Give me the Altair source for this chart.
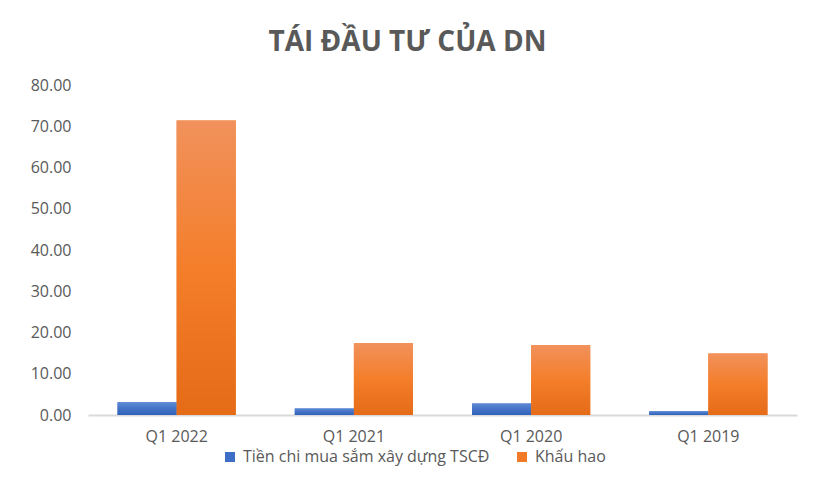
import altair as alt
import pandas as pd

categories = ["Q1 2022", "Q1 2021", "Q1 2020", "Q1 2019"]
series_names = ["Tiền chi mua sắm xây dựng TSCĐ", "Khấu hao"]
tien_chi = [3.1, 1.6, 2.8, 0.9]
khau_hao = [71.4, 17.4, 16.9, 14.9]
y_ticks = [0, 10, 20, 30, 40, 50, 60, 70, 80]

rows = []
for c, a, b in zip(categories, tien_chi, khau_hao):
    rows.append({"quarter": c, "series": series_names[0], "value": a})
    rows.append({"quarter": c, "series": series_names[1], "value": b})
df = pd.DataFrame(rows)

FONT = "Open Sans"
TXT = "#595959"

x_enc = alt.X(
    "quarter:N", sort=categories,
    scale=alt.Scale(paddingInner=0.333, paddingOuter=0.1667),
    axis=alt.Axis(title=None, labelAngle=0, domainColor="#D9D9D9", domainWidth=2,
                  ticks=False, labelPadding=13, labelFontSize=16, labelColor=TXT,
                  labelFont=FONT),
)
y_enc = alt.Y(
    "value:Q", scale=alt.Scale(domain=[0, 80], nice=False),
    axis=alt.Axis(title=None, values=y_ticks, format=".2f", grid=False, domain=False,
                  ticks=False, labelPadding=17, labelFontSize=16, labelColor=TXT,
                  labelFont=FONT),
)
xoff = alt.XOffset("series:N", sort=series_names,
                   scale=alt.Scale(paddingInner=0, paddingOuter=0))

base = alt.Chart(df).mark_bar().encode(
    x=x_enc, y=y_enc, xOffset=xoff,
    color=alt.Color(
        "series:N", sort=series_names,
        scale=alt.Scale(domain=series_names, range=["#3F6EC6", "#F07A26"]),
        legend=alt.Legend(orient="none", legendX=134, legendY=364, direction="horizontal",
                          title=None, symbolType="square", symbolSize=100,
                          symbolStrokeWidth=0, labelFontSize=16, labelColor=TXT,
                          labelFont=FONT, columnPadding=24, labelOffset=5, padding=0,
                          labelLimit=0),
    ),
)

blue_grad = alt.Gradient(gradient="linear", x1=0, y1=0, x2=0, y2=1, stops=[
    alt.GradientStop(color="#5E8AD6", offset=0),
    alt.GradientStop(color="#4472C4", offset=0.5),
    alt.GradientStop(color="#2E62BC", offset=1),
])
orange_grad = alt.Gradient(gradient="linear", x1=0, y1=0, x2=0, y2=1, stops=[
    alt.GradientStop(color="#F1915C", offset=0),
    alt.GradientStop(color="#F47E2A", offset=0.5),
    alt.GradientStop(color="#E56B17", offset=1),
])

blue = alt.Chart(df).transform_filter(
    alt.datum.series == series_names[0]
).mark_bar(fill=blue_grad).encode(x=x_enc, y=y_enc, xOffset=xoff)

orange = alt.Chart(df).transform_filter(
    alt.datum.series == series_names[1]
).mark_bar(fill=orange_grad).encode(x=x_enc, y=y_enc, xOffset=xoff)

chart = alt.layer(base, blue, orange).properties(
    width=709, height=330,
    background="white",
    title=alt.TitleParams("TÁI ĐẦU TƯ CỦA DN", fontSize=28, fontWeight="bold",
                          color=TXT, font=FONT, anchor="middle", dx=-35, offset=20),
    autosize=alt.AutoSizeParams(type="none"),
    padding={"left": 80, "top": 77, "right": 11, "bottom": 60},
).configure_view(stroke=None)

chart.save("out.html", embed_options={"renderer": "svg", "actions": False})
